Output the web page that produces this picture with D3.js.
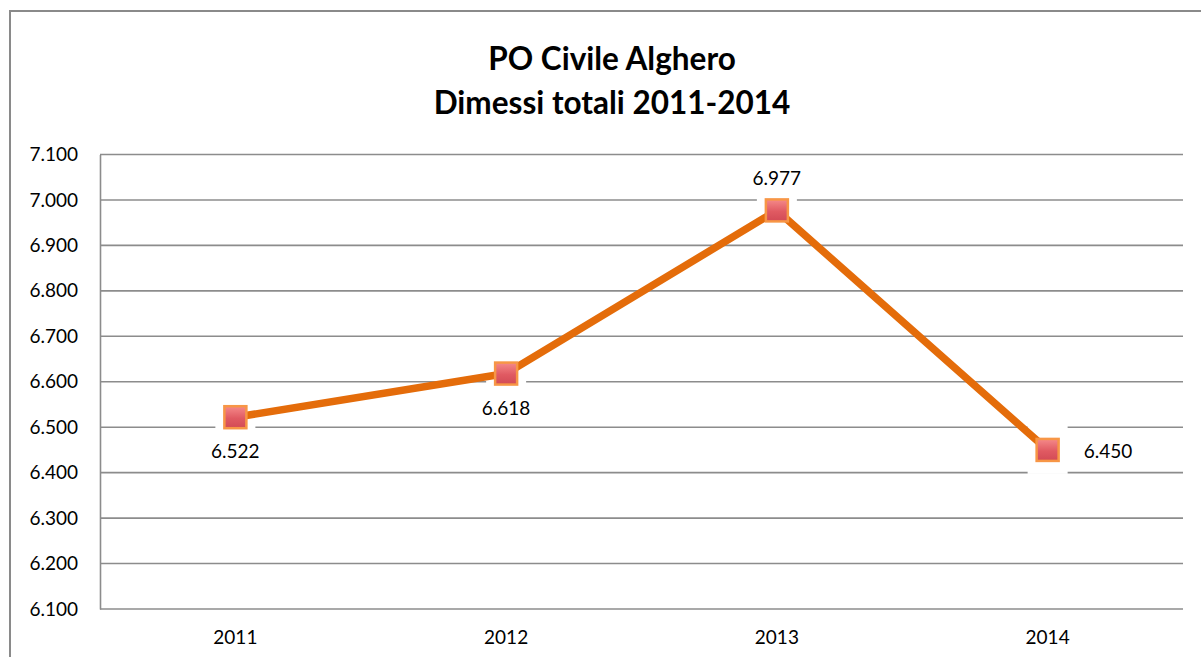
<!DOCTYPE html>
<html>
<head>
<meta charset="utf-8">
<script src="https://cdn.jsdelivr.net/npm/d3@7"></script>
<style>
  html, body { margin: 0; padding: 0; background: #fff; }
  svg { display: block; font-family: Lato, "Open Sans", sans-serif; }
</style>
</head>
<body>
<svg id="chart" width="1201" height="657"></svg>
<script>
// data
const years = ["2011", "2012", "2013", "2014"];
const dimessi = [6522, 6618, 6977, 6450];
const labelPos = ["below", "below", "above", "right"];
const yTicks = [6100, 6200, 6300, 6400, 6500, 6600, 6700, 6800, 6900, 7000, 7100];
const titleLines = ["PO Civile Alghero", "Dimessi totali 2011-2014"];

const PL = 100, PR = 1183, PT = 154.5, PB = 609; // plot frame
const fmt = (v) => d3.format(",.3f")(v / 1000).replace(",", "");

const svg = d3.select("#chart");

// outer frame (runs off the right and bottom edges)
svg.append("rect")
  .attr("x", 10).attr("y", 11)
  .attr("width", 1220).attr("height", 700)
  .attr("fill", "#fff")
  .attr("stroke", "#8a8a8a")
  .attr("stroke-width", 2);

// gradient for the markers
const defs = svg.append("defs");
const grad = defs.append("linearGradient").attr("id", "mk").attr("x1", 0).attr("y1", 0).attr("x2", 0).attr("y2", 1);
grad.append("stop").attr("offset", "0%").attr("stop-color", "#f58a8a");
grad.append("stop").attr("offset", "55%").attr("stop-color", "#e05a62");
grad.append("stop").attr("offset", "100%").attr("stop-color", "#d24a55");

// title
svg.append("g")
  .selectAll("text")
  .data(titleLines)
  .join("text")
  .attr("x", 612)
  .attr("y", (d, i) => 70 + i * 44)
  .attr("text-anchor", "middle")
  .attr("font-size", 31.5)
  .attr("font-weight", 700)
  .attr("fill", "#000")
  .text((d) => d);

const x = d3.scaleBand().domain(years).range([PL, PR]);
const y = d3.scaleLinear().domain([6100, 7100]).range([PB, PT]);

// gridlines
svg.append("g")
  .selectAll("line")
  .data(yTicks)
  .join("line")
  .attr("x1", PL).attr("x2", PR)
  .attr("y1", (d) => y(d)).attr("y2", (d) => y(d))
  .attr("stroke", "#8c8c8c")
  .attr("stroke-width", 1.6);

// y axis
const gy = svg.append("g")
  .attr("transform", `translate(${PL},0)`)
  .call(d3.axisLeft(y).tickValues(yTicks).tickSize(0).tickPadding(22).tickFormat(fmt));
gy.select(".domain").attr("stroke", "#8c8c8c").attr("stroke-width", 1.6);
gy.selectAll("text").attr("font-size", 19).attr("font-family", "Lato, sans-serif").attr("fill", "#000");

// x axis labels
const gx = svg.append("g")
  .attr("transform", `translate(0,${PB})`)
  .call(d3.axisBottom(x).tickSize(0).tickPadding(22));
gx.select(".domain").remove();
gx.selectAll("text").attr("font-size", 19).attr("font-family", "Lato, sans-serif").attr("fill", "#000");

const pts = years.map((yr, i) => ({ yr, v: dimessi[i], pos: labelPos[i] }));
const cx = (d) => x(d.yr) + x.bandwidth() / 2;

// soft white halo behind markers
svg.append("g")
  .selectAll("rect")
  .data(pts)
  .join("rect")
  .attr("x", (d) => cx(d) - 20)
  .attr("y", (d) => y(d.v) - 24)
  .attr("width", 40)
  .attr("height", 48)
  .attr("fill", "#fff");

// line
svg.append("path")
  .datum(pts)
  .attr("fill", "none")
  .attr("stroke", "#e46c0a")
  .attr("stroke-width", 7.5)
  .attr("stroke-linejoin", "round")
  .attr("d", d3.line().x(cx).y((d) => y(d.v)));

// markers
svg.append("g")
  .selectAll("rect")
  .data(pts)
  .join("rect")
  .attr("x", (d) => cx(d) - 11)
  .attr("y", (d) => y(d.v) - 11)
  .attr("width", 22)
  .attr("height", 22)
  .attr("fill", "url(#mk)")
  .attr("stroke", "#f79646")
  .attr("stroke-width", 2.5);

// data labels
svg.append("g")
  .selectAll("text")
  .data(pts)
  .join("text")
  .attr("x", (d) => (d.pos === "right" ? cx(d) + 36 : cx(d)))
  .attr("y", (d) => y(d.v) + (d.pos === "below" ? 41 : d.pos === "above" ? -25 : 8))
  .attr("text-anchor", (d) => (d.pos === "right" ? "start" : "middle"))
  .attr("font-size", 19)
  .attr("fill", "#000")
  .text((d) => fmt(d.v));
</script>
</body>
</html>
